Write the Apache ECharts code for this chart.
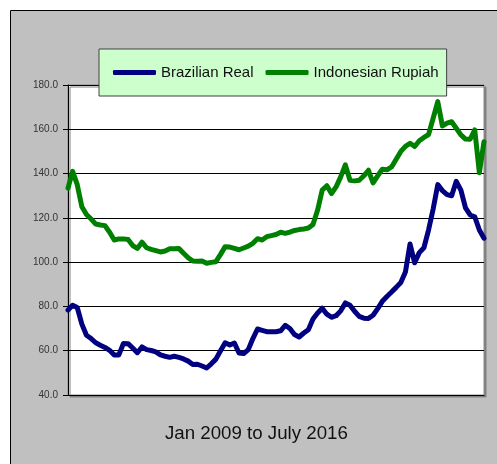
<!DOCTYPE html>
<html>
<head>
<meta charset="utf-8">
<script src="https://cdn.jsdelivr.net/npm/echarts@6/dist/echarts.min.js"></script>
<style>html,body{margin:0;padding:0;background:#fff;}#c{width:497px;height:464px;}</style>
</head>
<body>
<div id="c"></div>
<script>
// Monthly values, Jan 2009 .. July 2016
var months = [];
(function(){
  var names = ['Jan','Feb','Mar','Apr','May','Jun','Jul','Aug','Sep','Oct','Nov','Dec'];
  for (var y = 2009; y <= 2016; y++) {
    for (var m = 0; m < 12; m++) {
      if (y === 2016 && m > 6) break;
      months.push(names[m] + ' ' + y);
    }
  }
})();

var brazilianReal = [
  78.4, 80.5, 79.5, 72, 67, 65.5, 63.6, 62.5, 61.5, 60.2,
  58.1, 58.1, 63.3, 63.2, 61.2, 59.1, 61.7, 60.5, 60.1, 59.5,
  58.1, 57.5, 57, 57.5, 57, 56.3, 55.3, 53.8, 53.9, 53.1,
  52.2, 54.1, 56.2, 60, 63.6, 62.6, 63.5, 59, 58.7, 60.5,
  65.5, 69.8, 69.2, 68.6, 68.6, 68.6, 69, 71.5, 70, 67.3,
  66.2, 68, 69.5, 74.3, 77, 79.2, 76.5, 75.1, 75.8, 78,
  81.6, 80.5, 77.8, 75.5, 74.7, 74.6, 76, 79, 82.3, 84.5,
  86.5, 88.6, 90.8, 95.5, 108.2, 99.7, 104.3, 106.5, 114.5, 124,
  135, 132.3, 130.5, 130, 136.5, 132.5, 124.5, 121.3, 120.5, 114.5,
  110.8
];

var indonesianRupiah = [
  133.4, 141, 135, 125, 121.5, 119.5, 117.2, 116.8, 116.5, 113.5,
  110, 110.5, 110.5, 110.2, 107.5, 106.2, 109, 106.5, 105.8, 105.2,
  104.6, 105, 106, 106, 106.2, 104, 102, 100.5, 100.4, 100.5,
  99.5, 99.9, 100.2, 103.5, 107, 106.8, 106.2, 105.6, 106.4, 107.2,
  108.5, 110.6, 110, 111.5, 112, 112.5, 113.5, 113, 113.6, 114.3,
  114.7, 115, 115.4, 117, 123.5, 132.5, 134.5, 131, 134, 138.5,
  143.9, 137, 136.7, 137, 139, 141.5, 135.8, 139, 142, 141.7,
  143, 146.5, 150, 152.3, 153.7, 152.2, 154.8, 156.3, 157.6, 165,
  172.5, 161.5, 162.8, 163.4, 160.5, 157.5, 155.6, 155.5, 159.7, 140.4,
  154.4
];

var seriesNames = ['Brazilian Real', 'Indonesian Rupiah'];
var xTitle = 'Jan 2009 to July 2016';

var chart = echarts.init(document.getElementById('c'), null, {renderer: 'canvas'});
var FONT = '"Liberation Sans", Arial, sans-serif';

chart.setOption({
  animation: false,
  backgroundColor: '#ffffff',
  graphic: [
    {
      type: 'rect', z: -100, silent: true,
      shape: {x: 10.5, y: 10.5, width: 520, height: 520},
      style: {fill: '#c0c0c0', stroke: '#000000', lineWidth: 1}
    },
    {
      type: 'text', z: 10, silent: true,
      left: 165, top: 424,
      style: {text: xTitle, font: '18.7px ' + FONT, fill: '#111111'}
    }
  ],
  legend: {
    left: 99, top: 49,
    padding: [16, 8, 16, 14],
    itemGap: 12,
    itemWidth: 43, itemHeight: 5,
    icon: 'roundRect',
    backgroundColor: '#ccffcc',
    borderColor: '#404040', borderWidth: 1,
    textStyle: {fontFamily: FONT, fontSize: 15, color: '#111111'},
    data: seriesNames
  },
  grid: {
    left: 68, top: 85, right: 13, bottom: 69,
    show: true,
    backgroundColor: '#ffffff',
    borderColor: '#8a8a8a', borderWidth: 1,
    shadowColor: '#808080', shadowBlur: 0, shadowOffsetX: 2, shadowOffsetY: 2
  },
  xAxis: {
    type: 'category',
    data: months,
    boundaryGap: false,
    axisLine: {show: true, lineStyle: {color: '#000000', width: 1}},
    axisTick: {show: false},
    axisLabel: {show: false},
    splitLine: {show: false}
  },
  yAxis: {
    type: 'value',
    min: 40, max: 180, interval: 20,
    axisLine: {show: true, lineStyle: {color: '#000000', width: 1}},
    axisTick: {show: true, inside: false, length: 5, lineStyle: {color: '#000000'}},
    axisLabel: {
      margin: 10, fontFamily: FONT, fontSize: 10, color: '#333333',
      formatter: function (v) { return v.toFixed(1); }
    },
    splitLine: {show: true, lineStyle: {color: '#000000', width: 1}}
  },
  series: [
    {
      name: seriesNames[0], type: 'line', data: brazilianReal,
      symbol: 'none', color: '#000080',
      lineStyle: {width: 5, color: '#000080', join: 'round', cap: 'round'}
    },
    {
      name: seriesNames[1], type: 'line', data: indonesianRupiah,
      symbol: 'none', color: '#008000',
      lineStyle: {width: 5, color: '#008000', join: 'round', cap: 'round'}
    }
  ]
});
</script>
</body>
</html>
